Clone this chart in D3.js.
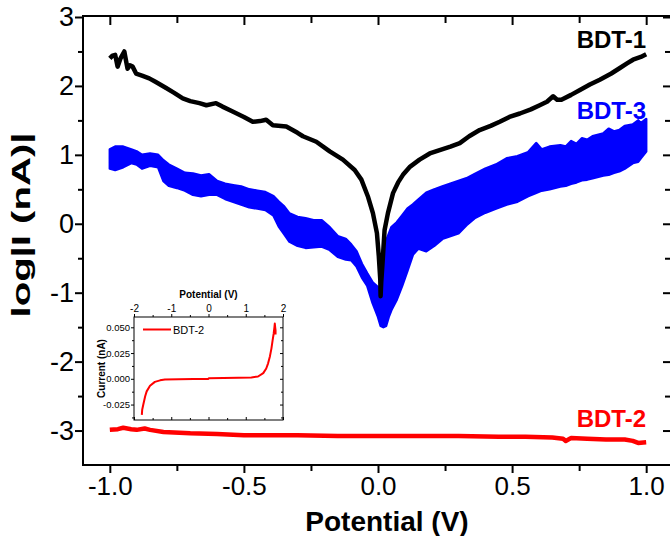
<!DOCTYPE html>
<html>
<head>
<meta charset="utf-8">
<script src="https://cdn.jsdelivr.net/npm/d3@7"></script>
<style>
  body { margin: 0; background: #fff; }
  text { font-family: "Liberation Sans", Arial, sans-serif; }
</style>
</head>
<body>
<script>
// ---- data ----
// BDT-1 (black line)
var bdt1V = [-1.00, -0.99, -0.98, -0.971, -0.96, -0.946, -0.934, -0.925, -0.915, -0.902, -0.88, -0.853, -0.83, -0.79, -0.76, -0.728, -0.70, -0.666, -0.64, -0.604, -0.58, -0.542, -0.50, -0.467, -0.44, -0.417, -0.392, -0.342, -0.30, -0.28, -0.23, -0.18, -0.131, -0.087, -0.062, -0.038, -0.019, -0.004, 0.003, 0.0085, 0.0097, 0.012, 0.016, 0.0246, 0.037, 0.056, 0.075, 0.093, 0.12, 0.155, 0.193, 0.23, 0.27, 0.305, 0.34, 0.379, 0.42, 0.454, 0.49, 0.529, 0.57, 0.603, 0.63, 0.653, 0.668, 0.684, 0.72, 0.753, 0.79, 0.827, 0.87, 0.902, 0.93, 0.951, 0.98, 1.00];
var bdt1Log = [2.40, 2.44, 2.45, 2.28, 2.40, 2.50, 2.25, 2.30, 2.28, 2.18, 2.15, 2.11, 2.06, 1.97, 1.90, 1.82, 1.78, 1.75, 1.72, 1.75, 1.70, 1.63, 1.55, 1.48, 1.49, 1.51, 1.43, 1.41, 1.32, 1.27, 1.19, 1.05, 0.93, 0.78, 0.64, 0.40, 0.155, -0.135, -0.47, -0.81, -1.05, -0.85, -0.62, -0.09, 0.155, 0.445, 0.60, 0.71, 0.83, 0.93, 1.02, 1.07, 1.12, 1.17, 1.27, 1.36, 1.42, 1.48, 1.55, 1.60, 1.66, 1.72, 1.77, 1.85, 1.80, 1.80, 1.87, 1.94, 2.02, 2.09, 2.18, 2.26, 2.33, 2.38, 2.42, 2.46];

// BDT-3 (blue, noisy band: upper and lower edge)
var bdt3V = [-1.00, -0.98, -0.95, -0.92, -0.90, -0.88, -0.85, -0.82, -0.80, -0.78, -0.75, -0.72, -0.69, -0.66, -0.63, -0.60, -0.57, -0.54, -0.51, -0.48, -0.45, -0.42, -0.39, -0.37, -0.35, -0.33, -0.30, -0.27, -0.24, -0.21, -0.18, -0.15, -0.12, -0.10, -0.08, -0.06, -0.04, -0.02, 0.00, 0.01, 0.02, 0.03, 0.04, 0.05, 0.07, 0.09, 0.11, 0.13, 0.15, 0.18, 0.21, 0.24, 0.27, 0.30, 0.33, 0.36, 0.40, 0.44, 0.48, 0.52, 0.56, 0.59, 0.61, 0.64, 0.68, 0.70, 0.72, 0.74, 0.76, 0.78, 0.80, 0.84, 0.86, 0.88, 0.90, 0.92, 0.95, 0.97, 0.98, 1.00];
var bdt3Upper = [1.08, 1.12, 1.12, 1.08, 1.05, 1.00, 1.02, 1.00, 0.92, 0.86, 0.80, 0.74, 0.73, 0.70, 0.72, 0.62, 0.58, 0.56, 0.54, 0.50, 0.48, 0.46, 0.40, 0.32, 0.25, 0.15, 0.10, 0.08, 0.05, 0.05, -0.05, -0.18, -0.22, -0.30, -0.40, -0.58, -0.72, -0.85, -0.92, -0.95, -0.60, -0.25, -0.15, -0.05, 0.02, 0.12, 0.22, 0.28, 0.35, 0.45, 0.50, 0.54, 0.58, 0.62, 0.66, 0.72, 0.80, 0.86, 0.95, 0.98, 1.04, 1.17, 1.08, 1.12, 1.14, 1.12, 1.20, 1.16, 1.24, 1.22, 1.27, 1.31, 1.38, 1.34, 1.36, 1.42, 1.44, 1.50, 1.46, 1.52];
var bdt3Lower = [0.80, 0.78, 0.82, 0.88, 0.86, 0.80, 0.84, 0.82, 0.62, 0.55, 0.52, 0.48, 0.42, 0.40, 0.42, 0.42, 0.36, 0.32, 0.28, 0.24, 0.22, 0.20, 0.12, -0.04, -0.15, -0.26, -0.32, -0.35, -0.34, -0.33, -0.38, -0.48, -0.52, -0.53, -0.62, -0.78, -0.90, -1.15, -1.35, -1.48, -1.50, -1.48, -1.35, -1.25, -1.10, -0.90, -0.68, -0.45, -0.36, -0.40, -0.32, -0.22, -0.18, -0.14, -0.02, 0.08, 0.16, 0.22, 0.28, 0.32, 0.40, 0.45, 0.48, 0.50, 0.54, 0.55, 0.58, 0.60, 0.63, 0.64, 0.66, 0.70, 0.71, 0.74, 0.76, 0.80, 0.88, 0.90, 0.95, 1.05];

// BDT-2 (red line)
var bdt2V = [-1.00, -0.97, -0.95, -0.92, -0.90, -0.87, -0.85, -0.80, -0.70, -0.60, -0.50, -0.40, -0.30, -0.15, 0.00, 0.15, 0.30, 0.45, 0.55, 0.65, 0.69, 0.70, 0.72, 0.78, 0.85, 0.92, 0.95, 0.97, 1.00];
var bdt2Log = [-2.99, -2.98, -2.96, -2.98, -2.99, -2.97, -2.99, -3.02, -3.04, -3.05, -3.07, -3.07, -3.07, -3.08, -3.08, -3.08, -3.08, -3.09, -3.09, -3.10, -3.12, -3.15, -3.11, -3.12, -3.13, -3.13, -3.15, -3.18, -3.17];

// inset: BDT-2 current vs potential
var insetV = [-1.79, -1.78, -1.75, -1.70, -1.66, -1.57, -1.44, -1.30, -1.17, -0.80, -0.40, -0.01, 0.01, 0.40, 0.80, 1.15, 1.33, 1.47, 1.55, 1.60, 1.65, 1.69, 1.72, 1.75, 1.77, 1.78, 1.79, 1.80, 1.80];
var insetI = [-0.035, -0.030, -0.025, -0.017, -0.0122, -0.0068, -0.003, -0.0015, -0.0006, -0.0004, -0.0003, -0.0002, 0.0005, 0.0007, 0.0009, 0.0013, 0.0022, 0.0055, 0.010, 0.015, 0.022, 0.0296, 0.037, 0.044, 0.050, 0.0537, 0.050, 0.047, 0.043];

// ticks
var xTicks = [-1.0, -0.5, 0.0, 0.5, 1.0];
var xMinor = [-0.75, -0.25, 0.25, 0.75];
var yTicks = [-3, -2, -1, 0, 1, 2, 3];
var yMinor = [-2.5, -1.5, -0.5, 0.5, 1.5, 2.5];
var insetXTicks = [-2, -1, 0, 1, 2];
var insetXMinor = [-1.5, -0.5, 0.5, 1.5];
var insetYTicks = [-0.025, 0, 0.025, 0.05];
var insetYMinor = [-0.0375, -0.0125, 0.0125, 0.0375];

var svgWidth = 670;
var svgHeight = 536;

var svg = d3.select("body")
  .append("svg")
  .attr("width", svgWidth)
  .attr("height", svgHeight);

// main scales
var x = d3.scaleLinear().domain([-1.1, 1.1]).range([83, 673]);
var y = d3.scaleLinear().domain([-3.5, 3]).range([465, 17]);

function styleAxis(g, width, fontSize) {
  g.select(".domain").remove();
  g.selectAll(".tick line").attr("stroke", "#000").attr("stroke-width", width);
  g.selectAll(".tick text")
    .attr("fill", "#000")
    .style("font-size", fontSize + "px")
    .style("font-family", "'Liberation Sans', Arial, sans-serif");
}

// bottom axis (ticks out)
svg.append("g")
  .attr("transform", "translate(0,465)")
  .call(d3.axisBottom(x).tickValues(xTicks).tickSize(8).tickPadding(4).tickFormat(d => d.toFixed(1)))
  .call(g => styleAxis(g, 2, 26));
svg.append("g")
  .attr("transform", "translate(0,465)")
  .call(d3.axisBottom(x).tickValues(xMinor).tickSize(6).tickFormat(""))
  .call(g => styleAxis(g, 2, 26));

// top axis (ticks in)
svg.append("g")
  .attr("transform", "translate(0,16)")
  .call(d3.axisBottom(x).tickValues(xTicks).tickSize(9).tickFormat(""))
  .call(g => styleAxis(g, 2, 26));
svg.append("g")
  .attr("transform", "translate(0,16)")
  .call(d3.axisBottom(x).tickValues(xMinor).tickSize(7).tickFormat(""))
  .call(g => styleAxis(g, 2, 26));

// left axis (ticks out)
svg.append("g")
  .attr("transform", "translate(83,0)")
  .call(d3.axisLeft(y).tickValues(yTicks).tickSize(8).tickPadding(1).tickFormat(d => d))
  .call(g => styleAxis(g, 2, 27));
svg.append("g")
  .attr("transform", "translate(83,0)")
  .call(d3.axisLeft(y).tickValues(yMinor).tickSize(5).tickFormat(""))
  .call(g => styleAxis(g, 2, 27));

// right axis (ticks in)
svg.append("g")
  .attr("transform", "translate(672,0)")
  .call(d3.axisLeft(y).tickValues(yTicks).tickSize(9).tickFormat(""))
  .call(g => styleAxis(g, 2, 27));
svg.append("g")
  .attr("transform", "translate(672,0)")
  .call(d3.axisLeft(y).tickValues(yMinor).tickSize(7).tickFormat(""))
  .call(g => styleAxis(g, 2, 27));

// frame
svg.append("rect")
  .attr("x", 83).attr("y", 16)
  .attr("width", 589).attr("height", 449)
  .attr("fill", "none")
  .attr("stroke", "#000")
  .attr("stroke-width", 2);

// BDT-3 band
var band = d3.area()
  .x(d => x(d[0]))
  .y0(d => y(d[2]))
  .y1(d => y(d[1]));

svg.append("path")
  .datum(d3.zip(bdt3V, bdt3Upper, bdt3Lower))
  .attr("d", band)
  .attr("fill", "#0000ff")
  .attr("stroke", "#0000ff")
  .attr("stroke-width", 2.5)
  .attr("stroke-linejoin", "round");

var line = d3.line()
  .x(d => x(d[0]))
  .y(d => y(d[1]));

// BDT-1
svg.append("path")
  .datum(d3.zip(bdt1V, bdt1Log))
  .attr("d", line)
  .attr("fill", "none")
  .attr("stroke", "#000")
  .attr("stroke-width", 4.5)
  .attr("stroke-linejoin", "round");

// BDT-2
svg.append("path")
  .datum(d3.zip(bdt2V, bdt2Log))
  .attr("d", line)
  .attr("fill", "none")
  .attr("stroke", "#ff0000")
  .attr("stroke-width", 4.5)
  .attr("stroke-linejoin", "round");

// series labels
var seriesLabels = [
  { text: "BDT-1", y: 48, color: "#000" },
  { text: "BDT-3", y: 119, color: "#0000ff" },
  { text: "BDT-2", y: 427, color: "#ff0000" }
];
svg.selectAll(".series-label")
  .data(seriesLabels)
  .enter()
  .append("text")
  .attr("class", "series-label")
  .attr("x", 646)
  .attr("y", d => d.y)
  .attr("text-anchor", "end")
  .attr("fill", d => d.color)
  .style("font-size", "24px")
  .style("font-weight", "bold")
  .text(d => d.text);

// axis titles
svg.append("text")
  .attr("x", 387)
  .attr("y", 531)
  .attr("text-anchor", "middle")
  .style("font-size", "28px")
  .style("font-weight", "bold")
  .text("Potential (V)");

svg.append("text")
  .attr("transform", "translate(30,225) rotate(-90)")
  .attr("text-anchor", "middle")
  .attr("textLength", 185)
  .attr("lengthAdjust", "spacingAndGlyphs")
  .style("font-size", "25px")
  .style("font-weight", "bold")
  .text("log|I (nA)|");

// ---- inset ----
var x2 = d3.scaleLinear().domain([-2, 2]).range([134, 283]);
var y2 = d3.scaleLinear().domain([-0.04, 0.06]).range([420, 317]);

var inset = svg.append("g");

inset.append("rect")
  .attr("x", 134).attr("y", 317)
  .attr("width", 149).attr("height", 103)
  .attr("fill", "#fff")
  .attr("stroke", "#000")
  .attr("stroke-width", 1);

inset.append("g")
  .attr("transform", "translate(0,317)")
  .call(d3.axisTop(x2).tickValues(insetXTicks).tickSize(3).tickPadding(2).tickFormat(d => d))
  .call(g => styleAxis(g, 1, 10));
inset.append("g")
  .attr("transform", "translate(0,317)")
  .call(d3.axisTop(x2).tickValues(insetXMinor).tickSize(2).tickFormat(""))
  .call(g => styleAxis(g, 1, 10));
inset.append("g")
  .attr("transform", "translate(0,420)")
  .call(d3.axisTop(x2).tickValues(insetXTicks).tickSize(3).tickFormat(""))
  .call(g => styleAxis(g, 1, 10));
inset.append("g")
  .attr("transform", "translate(0,420)")
  .call(d3.axisTop(x2).tickValues(insetXMinor).tickSize(2).tickFormat(""))
  .call(g => styleAxis(g, 1, 10));

inset.append("g")
  .attr("transform", "translate(134,0)")
  .call(d3.axisLeft(y2).tickValues(insetYTicks).tickSize(3).tickPadding(1).tickFormat(d => d.toFixed(3)))
  .call(g => styleAxis(g, 1, 9.5));
inset.append("g")
  .attr("transform", "translate(134,0)")
  .call(d3.axisLeft(y2).tickValues(insetYMinor).tickSize(2).tickFormat(""))
  .call(g => styleAxis(g, 1, 9.5));
inset.append("g")
  .attr("transform", "translate(283,0)")
  .call(d3.axisLeft(y2).tickValues(insetYTicks).tickSize(3).tickFormat(""))
  .call(g => styleAxis(g, 1, 9.5));
inset.append("g")
  .attr("transform", "translate(283,0)")
  .call(d3.axisLeft(y2).tickValues(insetYMinor).tickSize(2).tickFormat(""))
  .call(g => styleAxis(g, 1, 9.5));

var insetLine = d3.line()
  .x(d => x2(d[0]))
  .y(d => y2(d[1]));

inset.append("path")
  .datum(d3.zip(insetV, insetI))
  .attr("d", insetLine)
  .attr("fill", "none")
  .attr("stroke", "#ff0000")
  .attr("stroke-width", 2)
  .attr("stroke-linejoin", "round");

// inset legend
inset.append("line")
  .attr("x1", 143).attr("x2", 171)
  .attr("y1", 329.5).attr("y2", 329.5)
  .attr("stroke", "#ff0000")
  .attr("stroke-width", 2);
inset.append("text")
  .attr("x", 173)
  .attr("y", 333.5)
  .style("font-size", "11px")
  .text("BDT-2");

inset.append("text")
  .attr("x", 208.5)
  .attr("y", 298)
  .attr("text-anchor", "middle")
  .style("font-size", "10px")
  .style("font-weight", "bold")
  .text("Potential (V)");

inset.append("text")
  .attr("transform", "translate(105,368.5) rotate(-90)")
  .attr("text-anchor", "middle")
  .style("font-size", "10px")
  .style("font-weight", "bold")
  .text("Current (nA)");
</script>
</body>
</html>
